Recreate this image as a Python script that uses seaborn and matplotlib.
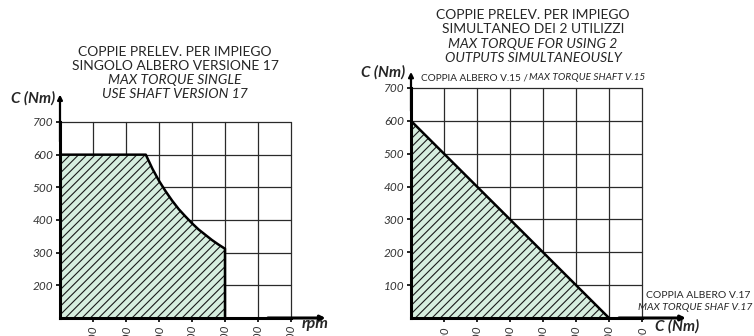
import matplotlib
matplotlib.use("Agg")
import matplotlib.pyplot as plt
import seaborn as sns
import pandas as pd

# Single-shaft torque curve (version 17)
rpm = [0, 1300, 1400, 1500, 1600, 1700, 1800, 1900, 2000, 2100, 2200, 2300, 2400, 2500, 2500]
torque_single = [600, 600, 557, 520, 488, 459, 433, 411, 390, 371, 355, 339, 325, 312, 100]
rpm_ticks = [500, 1000, 1500, 2000, 2500, 3000, 3500]
single_yticks = [200, 300, 400, 500, 600, 700]

# Simultaneous use of both outputs: shaft V.17 vs shaft V.15
torque_v17 = [0, 600]
torque_v15 = [600, 0]
nm_ticks = [100, 200, 300, 400, 500, 600, 700]
dual_yticks = [100, 200, 300, 400, 500, 600, 700]

sns.set_style("white")
plt.rcParams["font.family"] = ["Lato", "DejaVu Sans"]
plt.rcParams["hatch.linewidth"] = 0.8

W, H = 754, 336
fig = plt.figure(figsize=(W / 100, H / 100), dpi=100)


def fx(x):
    return x / W


def fy(y):
    return 1 - y / H


FILL = "#d6eedf"
GRID = "#2a2a2a"
TITLE_FS = 10


def make_axes(x0, x1, ytop, ybot):
    return fig.add_axes([fx(x0), fy(ybot), fx(x1) - fx(x0), fy(ytop) - fy(ybot)])


def style_axes(ax, xlim, ylim, xticks, xlabels, yticks, arrow_y, arrow_x):
    ax.set_xlim(*xlim)
    ax.set_ylim(*ylim)
    for v in xticks:
        ax.axvline(v, color=GRID, lw=0.9, zorder=1, clip_on=False)
    for v in yticks:
        ax.axhline(v, color=GRID, lw=0.9, zorder=1, clip_on=False)
    for s in ["top", "right"]:
        ax.spines[s].set_visible(False)
    for s in ["left", "bottom"]:
        ax.spines[s].set_linewidth(2.2)
        ax.spines[s].set_color("black")
        ax.spines[s].set_zorder(5)
    ax.set_xticks(xticks)
    ax.set_xticklabels(xlabels, rotation=90, fontstyle="italic", fontsize=8.5, color="#333333")
    ax.set_yticks(yticks)
    ax.set_yticklabels([str(v) for v in yticks], fontstyle="italic", fontsize=8.5, color="#333333")
    ax.tick_params(axis="both", length=3, width=1.2, color="black", pad=2, bottom=True, left=True)
    ax.set_xlabel("")
    ax.set_ylabel("")
    # axis arrows
    ax.annotate("", xy=(0, arrow_y), xytext=(0, 0.9), xycoords="axes fraction",
                arrowprops=dict(arrowstyle="-|>", lw=1.6, color="black", mutation_scale=7,
                                shrinkA=0, shrinkB=0), annotation_clip=False)
    ax.annotate("", xy=(arrow_x, 0), xytext=(0.9, 0), xycoords="axes fraction",
                arrowprops=dict(arrowstyle="-|>", lw=2.2, color="black", mutation_scale=7,
                                shrinkA=0, shrinkB=0), annotation_clip=False)


# ---- left chart ----
ax1 = make_axes(60, 291, 122, 318)
ax1.fill_between(rpm, torque_single, 100, facecolor=FILL, edgecolor="#1a1a1a",
                 hatch="////", linewidth=0, zorder=2)
df1 = pd.DataFrame({"rpm": rpm, "C": torque_single})
sns.lineplot(data=df1, x="rpm", y="C", sort=False, estimator=None, color="black",
             lw=1.8, ax=ax1, zorder=4)
ax1.plot([0, 0], [100, 600], color="black", lw=2.0, zorder=4)
style_axes(ax1, (0, 3500), (100, 700), rpm_ticks, [str(v) for v in rpm_ticks],
           single_yticks, 1.14, 1.15)

fig.text(fx(175), fy(52), "COPPIE PRELEV. PER IMPIEGO", ha="center", va="center", fontsize=TITLE_FS)
fig.text(fx(175), fy(66), "SINGOLO ALBERO VERSIONE 17", ha="center", va="center", fontsize=TITLE_FS)
fig.text(fx(175), fy(80), "MAX TORQUE SINGLE", ha="center", va="center", fontsize=TITLE_FS,
         fontstyle="italic")
fig.text(fx(175), fy(94), "USE SHAFT VERSION 17", ha="center", va="center", fontsize=TITLE_FS,
         fontstyle="italic")
fig.text(fx(55), fy(98), "C (Nm)", ha="right", va="center", fontsize=11,
         fontweight="bold", fontstyle="italic")
fig.text(fx(302), fy(324), "rpm", ha="left", va="center", fontsize=11.5,
         fontweight="bold", fontstyle="italic")

# ---- right chart ----
ax2 = make_axes(411, 642, 88, 318)
ax2.fill_between(torque_v17, torque_v15, 0, facecolor=FILL, edgecolor="#1a1a1a",
                 hatch="////", linewidth=0, zorder=2)
df2 = pd.DataFrame({"v17": torque_v17, "v15": torque_v15})
sns.lineplot(data=df2, x="v17", y="v15", sort=False, estimator=None, color="black",
             lw=1.8, ax=ax2, zorder=4)
style_axes(ax2, (0, 700), (0, 700), nm_ticks, [str(v) for v in nm_ticks],
           dual_yticks, 1.07, 1.19)

fig.text(fx(533), fy(15), "COPPIE PRELEV. PER IMPIEGO", ha="center", va="center", fontsize=TITLE_FS)
fig.text(fx(533), fy(29), "SIMULTANEO DEI 2 UTILIZZI", ha="center", va="center", fontsize=TITLE_FS)
fig.text(fx(533), fy(44), "MAX TORQUE FOR USING 2", ha="center", va="center", fontsize=TITLE_FS,
         fontstyle="italic")
fig.text(fx(533), fy(58), "OUTPUTS SIMULTANEOUSLY", ha="center", va="center", fontsize=TITLE_FS,
         fontstyle="italic")
fig.text(fx(405), fy(72), "C (Nm)", ha="right", va="center", fontsize=11,
         fontweight="bold", fontstyle="italic")

# V.15 axis caption: upright half followed by the italic half
v15_a = fig.text(fx(421), fy(78), "COPPIA ALBERO V.15 /", ha="left", va="center", fontsize=7.2)
fig.canvas.draw()
bb = v15_a.get_window_extent()
fig.text((bb.x1 + 1) / W, fy(78), "MAX TORQUE SHAFT V.15", ha="left", va="center",
         fontsize=7.2, fontstyle="italic")

fig.text(fx(750), fy(296), "COPPIA ALBERO V.17", ha="right", va="center", fontsize=7.5)
fig.text(fx(752), fy(308), "MAX TORQUE SHAF V.17", ha="right", va="center", fontsize=7.5,
         fontstyle="italic")
fig.text(fx(655), fy(326), "C (Nm)", ha="left", va="center", fontsize=11,
         fontweight="bold", fontstyle="italic")

fig.savefig("out.png", dpi=100)
